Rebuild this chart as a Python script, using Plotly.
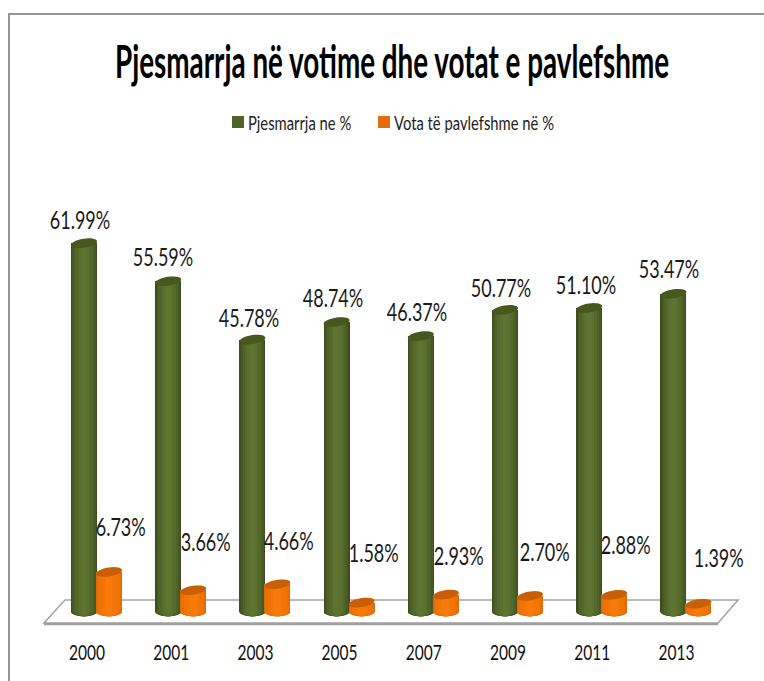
import math
import plotly.graph_objects as go

years = ["2000", "2001", "2003", "2005", "2007", "2009", "2011", "2013"]
turnout = [61.99, 55.59, 45.78, 48.74, 46.37, 50.77, 51.10, 53.47]
invalid = [6.73, 3.66, 4.66, 1.58, 2.93, 2.70, 2.88, 1.39]
title = "Pjesmarrja në votime dhe votat e pavlefshme"
turnout_name = "Pjesmarrja ne %"
invalid_name = "Vota të pavlefshme në %"

# layout constants (pixels)
W, H = 764, 681
PLOT_BOTTOM = 638
ZERO_PX = 612
FIRST_PX = 84
STEP_PX = 84.2
PX_PER_UNIT = 5.95
BAR_PX = 26
ORANGE_OFFSET_PX = 25
FONT = "Lato"

x_low = -FIRST_PX / STEP_PX
x_high = (W - FIRST_PX) / STEP_PX
y_low = -(PLOT_BOTTOM - ZERO_PX) / PX_PER_UNIT
y_high = ZERO_PX / PX_PER_UNIT


def dx(px):
    return px / STEP_PX


def dy(px):
    return px / PX_PER_UNIT


def xpos(px):
    return (px - FIRST_PX) / STEP_PX


def ypos(px):
    return (ZERO_PX - px) / PX_PER_UNIT


def top_ellipse(cx, cy, rx, ry, tilt, fill):
    pts = []
    for k in range(36):
        t = 2 * math.pi * k / 36
        pts.append((cx + dx(rx * math.cos(t)),
                    cy + dy(ry * math.sin(t) + tilt * math.cos(t))))
    path = "M " + " L ".join(f"{a:.4f},{b:.4f}" for a, b in pts) + " Z"
    return dict(type="path", xref="x", yref="y", path=path, fillcolor=fill,
                line=dict(width=0), layer="above")


def base_cap(cx, rx, ry, fill):
    pts = []
    for k in range(19):
        t = math.pi * k / 18
        pts.append((cx + dx(rx * math.cos(t)), -dy(ry * math.sin(t))))
    path = "M " + " L ".join(f"{a:.4f},{b:.4f}" for a, b in pts) + " Z"
    return dict(type="path", xref="x", yref="y", path=path, fillcolor=fill,
                line=dict(width=0), layer="above")


green_strips = [(1.00, "#3d4d1e"), (0.90, "#475924"), (0.76, "#4f6228"),
                (0.58, "#55692c"), (0.38, "#5a702f"), (0.18, "#5e7531")]
orange_strips = [(1.00, "#d96806"), (0.92, "#e96f06"), (0.74, "#f07306"),
                 (0.50, "#f47606"), (0.26, "#f87a08")]

fig = go.Figure()
shapes = []
green_x = list(range(len(years)))
orange_x = [i + dx(ORANGE_OFFSET_PX) for i in green_x]


def add_series(xs, values, name, color, strips, top_color):
    fig.add_bar(x=xs, y=values, width=dx(BAR_PX), name=name, marker_color=color,
                marker_line_width=0, showlegend=True, hoverinfo="skip")
    for frac, c in strips:
        fig.add_bar(x=xs, y=values, width=dx(BAR_PX) * frac, marker_color=c,
                    marker_line_width=0, showlegend=False, hoverinfo="skip")
    for x, v in zip(xs, values):
        for frac, c in strips:
            shapes.append(base_cap(x, BAR_PX / 2 * frac, 4.2, c))
        shapes.append(top_ellipse(x, v, BAR_PX / 2, 4.5, 1.8, top_color))


add_series(green_x, turnout, turnout_name, "#4f6228", green_strips, "#47581f")
add_series(orange_x, invalid, invalid_name, "#e46c0a", orange_strips, "#c95f05")

floor = (f"M {xpos(65)},{ypos(600)} L {xpos(738)},{ypos(600)} "
         f"L {xpos(718)},{ypos(623)} L {xpos(44)},{ypos(623)} Z")
floor_shape = dict(type="path", xref="x", yref="y", path=floor, fillcolor="white",
                   line=dict(color="#a6a6a6", width=1.6), layer="below")
floor_edge = dict(type="line", xref="x", yref="y", x0=xpos(44), x1=xpos(718),
                  y0=ypos(624), y1=ypos(624), line=dict(color="#a0a0a0", width=2.5),
                  layer="below")
frame = dict(type="path", xref="paper", yref="paper",
             path=f"M {9 / W},{(PLOT_BOTTOM - H) / PLOT_BOTTOM} L {9 / W},{(PLOT_BOTTOM - 14) / PLOT_BOTTOM} "
                  f"L 1,{(PLOT_BOTTOM - 14) / PLOT_BOTTOM}",
             line=dict(color="#969696", width=2), layer="below")

turnout_shift_x = [-4, -5, -3, -4, -4, -4, -3, -4]
turnout_shift_y = [24, 25, 23, 25, 25, 23, 24, 26]
invalid_shift_x = [11, 12, 11, 12, 13, 14, 11, 20]
invalid_shift_y = [46, 49, 44, 51, 40, 45, 51, 47]

annotations = []
for xs, vals, sx, sy in ((green_x, turnout, turnout_shift_x, turnout_shift_y),
                         (orange_x, invalid, invalid_shift_x, invalid_shift_y)):
    for x, v, a, b in zip(xs, vals, sx, sy):
        annotations.append(dict(x=x, y=v, xref="x", yref="y", text=f"{v:.2f}%",
                                showarrow=False, xshift=a, yshift=b, yanchor="middle",
                                font=dict(family=FONT, size=25, color="#1a1a1a")))

fig.update_layout(
    width=W, height=H, autosize=False,
    margin=dict(l=0, r=0, t=0, b=H - PLOT_BOTTOM, pad=0),
    paper_bgcolor="white", plot_bgcolor="rgba(0,0,0,0)",
    barmode="overlay", bargap=0,
    title=dict(text=title, x=392 / W, xanchor="center", y=1 - 62 / H, yanchor="middle",
               font=dict(family=FONT, size=46, color="black", weight="bold")),
    legend=dict(orientation="h", x=218 / W, xanchor="left", y=(PLOT_BOTTOM - 122) / PLOT_BOTTOM,
                yanchor="middle", font=dict(family=FONT, size=20, color="#222222"),
                entrywidth=101, entrywidthmode="pixels",
                bgcolor="rgba(0,0,0,0)", itemclick=False, itemdoubleclick=False),
    shapes=[frame, floor_shape, floor_edge] + shapes,
    annotations=annotations,
    xaxis=dict(range=[x_low, x_high], tickmode="array",
               tickvals=[i + dx(3) for i in green_x], ticktext=years,
               showgrid=False, zeroline=False, showline=False, ticks="",
               tickfont=dict(family=FONT, size=21, color="#111111")),
    yaxis=dict(range=[y_low, y_high], visible=False, showgrid=False, zeroline=False),
)

# The reference type is tall and condensed: narrow the real text horizontally.
squeeze = """
function squeeze(sel, ratio, anchorLeft, shift) {
  document.querySelectorAll(sel).forEach(function (t) {
    var b = t.getBBox();
    var ox = anchorLeft ? b.x : b.x + b.width / 2;
    var prev = t.getAttribute('transform') || '';
    t.setAttribute('transform', prev + ' translate(' + (ox + (shift || 0)) + ',0) scale(' + ratio + ',1) translate(' + (-ox) + ',0)');
  });
}
squeeze('.gtitle', 0.605, false, 0);
squeeze('.annotation-text', 0.72, false, 0);
squeeze('.xtick text', 0.74, false, 0);
squeeze('.legendtext', 0.74, true, -10);
document.querySelectorAll('.legend .scrollbox, .legend .traces').forEach(function (g) { g.removeAttribute('clip-path'); });
document.querySelectorAll('.legend').forEach(function (g) { g.style.overflow = 'visible'; });
document.body.style.margin = '0';
document.documentElement.style.overflow = 'hidden';
"""

fig.write_html("out.html", config=dict(displayModeBar=False), post_script=squeeze)
